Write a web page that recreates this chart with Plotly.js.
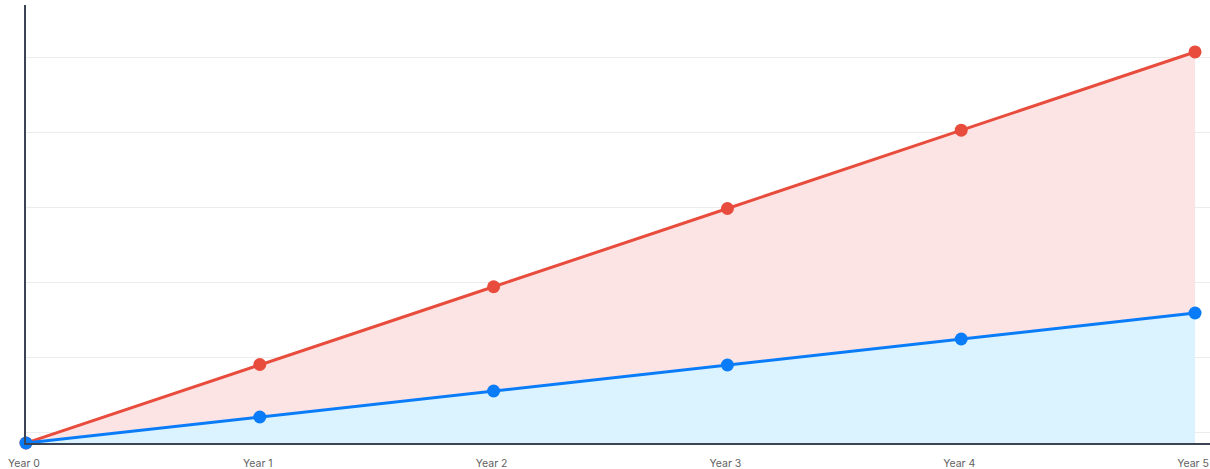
<!DOCTYPE html>
<html>
<head>
<meta charset="utf-8">
<script src="https://cdn.plot.ly/plotly-3.0.1.min.js"></script>
<style>html,body{margin:0;padding:0;background:#fff;}#chart{width:1210px;height:469px;}</style>
</head>
<body>
<div id="chart"></div>
<script>
const categories = [0, 1, 2, 3, 4, 5];
const tickLabels = ["Year 0", "Year 1", "Year 2", "Year 3", "Year 4", "Year 5"];
const redValues = [0, 302, 601, 902, 1203, 1504];
const blueValues = [0, 100, 200, 300, 400, 500];

const traces = [
  {
    x: categories, y: redValues, type: "scatter", mode: "lines+markers",
    line: {color: "#e84c3d", width: 3},
    marker: {color: "#e84c3d", size: 13},
    fill: "tozeroy", fillcolor: "#fde4e4",
    cliponaxis: false,
    hoverinfo: "skip", showlegend: false
  },
  {
    x: categories, y: blueValues, type: "scatter", mode: "lines+markers",
    line: {color: "#0a7cf8", width: 3},
    marker: {color: "#0a7cf8", size: 13},
    fill: "tozeroy", fillcolor: "#daf3fe",
    cliponaxis: false,
    hoverinfo: "skip", showlegend: false
  }
];

const layout = {
  width: 1210, height: 469,
  margin: {l: 26, r: 0, t: 5, b: 26, pad: 0},
  paper_bgcolor: "#ffffff", plot_bgcolor: "#ffffff",
  showlegend: false,
  xaxis: {
    range: [0, 5.064], tickmode: "array", tickvals: categories, ticktext: tickLabels,
    showgrid: false, zeroline: false,
    showline: true, linecolor: "#3b4354", linewidth: 2,
    ticks: "outside", ticklen: 9, tickcolor: "rgba(0,0,0,0)",
    ticklabeloverflow: "allow", ticklabelshift: -2,
    tickfont: {family: "Inter, sans-serif", size: 10.5, color: "#5f5f5f"},
    fixedrange: true
  },
  yaxis: {
    range: [0, 1684.6], tick0: 38.5, dtick: 288.5,
    showticklabels: false, showgrid: true, gridcolor: "#ececec", gridwidth: 1,
    zeroline: false, showline: true, linecolor: "#3b4354", linewidth: 2,
    fixedrange: true
  }
};

Plotly.newPlot("chart", traces, layout, {displayModeBar: false, staticPlot: true});
</script>
</body>
</html>
